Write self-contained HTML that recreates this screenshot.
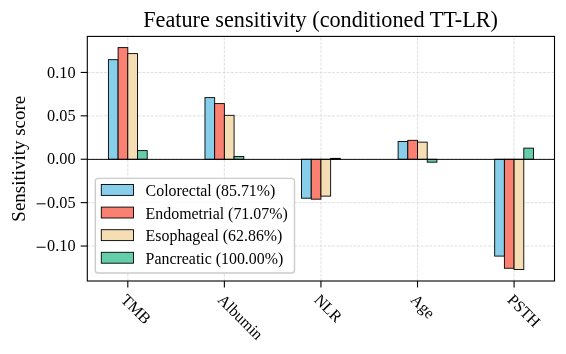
<!DOCTYPE html>
<html><head><meta charset="utf-8"><style>
html,body{margin:0;padding:0;background:#fff;width:566px;height:354px;overflow:hidden}
svg{display:block}
.w{filter:grayscale(0.0001)}
text{font-family:"Liberation Serif", serif;fill:#000}
</style></head><body><div class="w">
<svg width="566" height="354" viewBox="0 0 566 354">
<rect width="566" height="354" fill="#fff"/>
<line x1="127.80" y1="281.0" x2="127.80" y2="36.4" stroke="#d6d6d6" stroke-width="0.76" stroke-dasharray="2.95 1.27"/>
<line x1="224.37" y1="281.0" x2="224.37" y2="36.4" stroke="#d6d6d6" stroke-width="0.76" stroke-dasharray="2.95 1.27"/>
<line x1="320.94" y1="281.0" x2="320.94" y2="36.4" stroke="#d6d6d6" stroke-width="0.76" stroke-dasharray="2.95 1.27"/>
<line x1="417.51" y1="281.0" x2="417.51" y2="36.4" stroke="#d6d6d6" stroke-width="0.76" stroke-dasharray="2.95 1.27"/>
<line x1="514.08" y1="281.0" x2="514.08" y2="36.4" stroke="#d6d6d6" stroke-width="0.76" stroke-dasharray="2.95 1.27"/>
<line x1="87.3" y1="72.44" x2="554.5" y2="72.44" stroke="#d6d6d6" stroke-width="0.76" stroke-dasharray="2.95 1.27"/>
<line x1="87.3" y1="115.84" x2="554.5" y2="115.84" stroke="#d6d6d6" stroke-width="0.76" stroke-dasharray="2.95 1.27"/>
<line x1="87.3" y1="159.24" x2="554.5" y2="159.24" stroke="#d6d6d6" stroke-width="0.76" stroke-dasharray="2.95 1.27"/>
<line x1="87.3" y1="202.64" x2="554.5" y2="202.64" stroke="#d6d6d6" stroke-width="0.76" stroke-dasharray="2.95 1.27"/>
<line x1="87.3" y1="246.04" x2="554.5" y2="246.04" stroke="#d6d6d6" stroke-width="0.76" stroke-dasharray="2.95 1.27"/>
<rect x="108.40" y="59.69" width="9.70" height="99.55" fill="#87CEEB" stroke="#000" stroke-width="0.9"/>
<rect x="118.10" y="47.62" width="9.70" height="111.62" fill="#FA8072" stroke="#000" stroke-width="0.9"/>
<rect x="127.80" y="53.61" width="9.70" height="105.63" fill="#F5DEB3" stroke="#000" stroke-width="0.9"/>
<rect x="137.50" y="150.60" width="9.70" height="8.64" fill="#66CDAA" stroke="#000" stroke-width="0.9"/>
<rect x="204.97" y="97.62" width="9.70" height="61.62" fill="#87CEEB" stroke="#000" stroke-width="0.9"/>
<rect x="214.67" y="103.60" width="9.70" height="55.64" fill="#FA8072" stroke="#000" stroke-width="0.9"/>
<rect x="224.37" y="115.32" width="9.70" height="43.92" fill="#F5DEB3" stroke="#000" stroke-width="0.9"/>
<rect x="234.07" y="156.46" width="9.70" height="2.78" fill="#66CDAA" stroke="#000" stroke-width="0.9"/>
<rect x="301.54" y="159.24" width="9.70" height="38.97" fill="#87CEEB" stroke="#000" stroke-width="0.9"/>
<rect x="311.24" y="159.24" width="9.70" height="39.93" fill="#FA8072" stroke="#000" stroke-width="0.9"/>
<rect x="320.94" y="159.24" width="9.70" height="36.89" fill="#F5DEB3" stroke="#000" stroke-width="0.9"/>
<rect x="330.64" y="158.37" width="9.70" height="0.87" fill="#66CDAA" stroke="#000" stroke-width="0.9"/>
<rect x="398.11" y="141.45" width="9.70" height="17.79" fill="#87CEEB" stroke="#000" stroke-width="0.9"/>
<rect x="407.81" y="140.32" width="9.70" height="18.92" fill="#FA8072" stroke="#000" stroke-width="0.9"/>
<rect x="417.51" y="142.14" width="9.70" height="17.10" fill="#F5DEB3" stroke="#000" stroke-width="0.9"/>
<rect x="427.21" y="159.24" width="9.70" height="2.95" fill="#66CDAA" stroke="#000" stroke-width="0.9"/>
<rect x="494.68" y="159.24" width="9.70" height="96.86" fill="#87CEEB" stroke="#000" stroke-width="0.9"/>
<rect x="504.38" y="159.24" width="9.70" height="109.01" fill="#FA8072" stroke="#000" stroke-width="0.9"/>
<rect x="514.08" y="159.24" width="9.70" height="110.23" fill="#F5DEB3" stroke="#000" stroke-width="0.9"/>
<rect x="523.78" y="148.13" width="9.70" height="11.11" fill="#66CDAA" stroke="#000" stroke-width="0.9"/>
<line x1="87.3" y1="159.4" x2="554.5" y2="159.4" stroke="#000" stroke-width="0.95"/>
<rect x="95.3" y="178.4" width="199.20" height="94.60" rx="2.8" ry="2.8" fill="#fff" fill-opacity="0.8" stroke="#cccccc" stroke-width="1.4"/>
<rect x="101.3" y="184.50" width="32.2" height="10.9" fill="#87CEEB" stroke="#000" stroke-width="0.9"/>
<text x="145.6" y="195.90" font-size="15.9">Colorectal (85.71%)</text>
<rect x="101.3" y="207.10" width="32.2" height="10.9" fill="#FA8072" stroke="#000" stroke-width="0.9"/>
<text x="145.6" y="218.50" font-size="15.9">Endometrial (71.07%)</text>
<rect x="101.3" y="229.70" width="32.2" height="10.9" fill="#F5DEB3" stroke="#000" stroke-width="0.9"/>
<text x="145.6" y="241.10" font-size="15.9">Esophageal (62.86%)</text>
<rect x="101.3" y="252.30" width="32.2" height="10.9" fill="#66CDAA" stroke="#000" stroke-width="0.9"/>
<text x="145.6" y="263.70" font-size="15.9">Pancreatic (100.00%)</text>
<rect x="87.3" y="36.4" width="467.20" height="244.60" fill="none" stroke="#000" stroke-width="1.1"/>
<line x1="80.7" y1="72.44" x2="87.3" y2="72.44" stroke="#000" stroke-width="1.1"/>
<text transform="translate(75.6,77.64) scale(1,1.07)" font-size="16.3" text-anchor="end">0.10</text>
<line x1="80.7" y1="115.84" x2="87.3" y2="115.84" stroke="#000" stroke-width="1.1"/>
<text transform="translate(75.6,121.04) scale(1,1.07)" font-size="16.3" text-anchor="end">0.05</text>
<line x1="80.7" y1="159.24" x2="87.3" y2="159.24" stroke="#000" stroke-width="1.1"/>
<text transform="translate(75.6,164.44) scale(1,1.07)" font-size="16.3" text-anchor="end">0.00</text>
<line x1="80.7" y1="202.64" x2="87.3" y2="202.64" stroke="#000" stroke-width="1.1"/>
<text transform="translate(75.6,207.84) scale(1,1.07)" font-size="16.3" text-anchor="end">0.05</text>
<line x1="36.6" y1="203.84" x2="45.6" y2="203.84" stroke="#000" stroke-width="1.0"/>
<line x1="80.7" y1="246.04" x2="87.3" y2="246.04" stroke="#000" stroke-width="1.1"/>
<text transform="translate(75.6,251.24) scale(1,1.07)" font-size="16.3" text-anchor="end">0.10</text>
<line x1="36.6" y1="247.24" x2="45.6" y2="247.24" stroke="#000" stroke-width="1.0"/>
<line x1="127.80" y1="281.0" x2="127.80" y2="287.4" stroke="#000" stroke-width="1.1"/>
<g transform="translate(127.80,293.0) rotate(45)"><text x="0" y="10.86" font-size="15.9">TMB</text></g>
<line x1="224.37" y1="281.0" x2="224.37" y2="287.4" stroke="#000" stroke-width="1.1"/>
<g transform="translate(224.37,293.0) rotate(45)"><text x="0" y="10.86" font-size="15.9">Albumin</text></g>
<line x1="320.94" y1="281.0" x2="320.94" y2="287.4" stroke="#000" stroke-width="1.1"/>
<g transform="translate(320.94,293.0) rotate(45)"><text x="0" y="10.86" font-size="15.9">NLR</text></g>
<line x1="417.51" y1="281.0" x2="417.51" y2="287.4" stroke="#000" stroke-width="1.1"/>
<g transform="translate(417.51,293.0) rotate(45)"><text x="0" y="10.86" font-size="15.9">Age</text></g>
<line x1="514.08" y1="281.0" x2="514.08" y2="287.4" stroke="#000" stroke-width="1.1"/>
<g transform="translate(514.08,293.0) rotate(45)"><text x="0" y="10.86" font-size="15.9">PSTH</text></g>
<text x="320.6" y="26.9" font-size="22.23" text-anchor="middle">Feature sensitivity (conditioned TT-LR)</text>
<g transform="translate(24.6,158.75) rotate(-90)"><text x="0" y="0" font-size="18.97" text-anchor="middle">Sensitivity score</text></g>
</svg></div>
</body></html>
